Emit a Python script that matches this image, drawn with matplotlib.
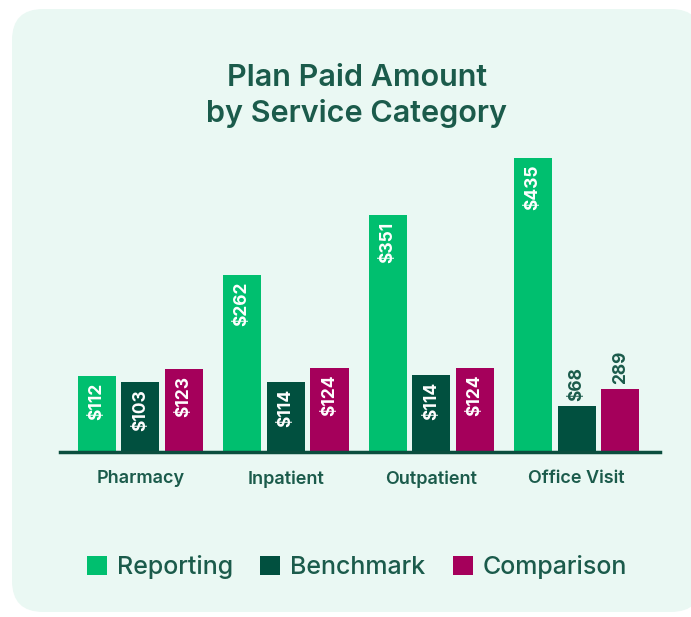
import numpy as np
import matplotlib.pyplot as plt
from matplotlib.patches import FancyBboxPatch, Patch

plt.rcParams['font.family'] = ['Inter', 'DejaVu Sans']

categories = ['Pharmacy', 'Inpatient', 'Outpatient', 'Office Visit']
series = ['Reporting', 'Benchmark', 'Comparison']
# bar heights as drawn in the picture (not all match their labels)
reporting = [112, 262, 351, 435]
benchmark = [103, 103, 114, 68]
comparison = [123, 124, 124, 93]
reporting_labels = ['$112', '$262', '$351', '$435']
benchmark_labels = ['$103', '$114', '$114', '$68']
comparison_labels = ['$123', '$124', '$124', '289']

colors = ['#00BF6F', '#01503F', '#A5005B']
text_color = '#1B5B4B'
bg = '#EAF8F3'

fig = plt.figure(figsize=(6.91, 6.17), dpi=100)
fig.patch.set_facecolor('white')
card = FancyBboxPatch((12/691, 5/617), 690/691, 603/617,
                      boxstyle='round,pad=0,rounding_size=0.045',
                      transform=fig.transFigure, facecolor=bg, edgecolor='none',
                      mutation_aspect=691/617, zorder=-5)
fig.patches.append(card)

ax = fig.add_axes([60/691, (617-452)/617, 600/691, 312/617])
ax.set_facecolor('none')

x = np.arange(len(categories))
w = 0.262
step = 0.3
data = [reporting, benchmark, comparison]
labels = [reporting_labels, benchmark_labels, comparison_labels]
for i, (vals, labs, c) in enumerate(zip(data, labels, colors)):
    pos = x + (i - 1) * step
    ax.bar(pos, vals, width=w, color=c, zorder=2)
    for p, v, lab in zip(pos, vals, labs):
        if v < 100:
            ax.text(p, v + 7, lab, rotation=90, ha='center', va='bottom',
                    color=text_color, fontsize=12.5, fontweight='bold')
        else:
            ax.text(p, v - 10, lab, rotation=90, ha='center', va='top',
                    color='white', fontsize=12.5, fontweight='bold')

ax.set_xlim(-0.552, 3.572)
ax.set_ylim(0, 461.5)
ax.set_yticks([])
for s in ['top', 'right', 'left']:
    ax.spines[s].set_visible(False)
ax.spines['bottom'].set_color('#0B4E3E')
ax.spines['bottom'].set_linewidth(2.5)
ax.spines['bottom'].set_zorder(3)
ax.set_xticks(x)
ax.set_xticklabels(categories, color=text_color, fontsize=13, fontweight='semibold')
ax.tick_params(axis='x', length=0, pad=13)

fig.text(357/691, 1 - 96/617, 'Plan Paid Amount\nby Service Category', ha='center', va='center',
         color=text_color, fontsize=22, fontweight='semibold', linespacing=1.3)

handles = [Patch(facecolor=c, label=s) for c, s in zip(colors, series)]
leg = fig.legend(handles=handles, loc='center', bbox_to_anchor=(357/691, 1 - 567/617), ncol=3,
                 frameon=False, fontsize=18, handlelength=0.8, handleheight=0.8,
                 handletextpad=0.4, columnspacing=1.1)
for t in leg.get_texts():
    t.set_color(text_color)
    t.set_fontweight('medium')

fig.savefig('out.png', dpi=100, facecolor=fig.get_facecolor())
